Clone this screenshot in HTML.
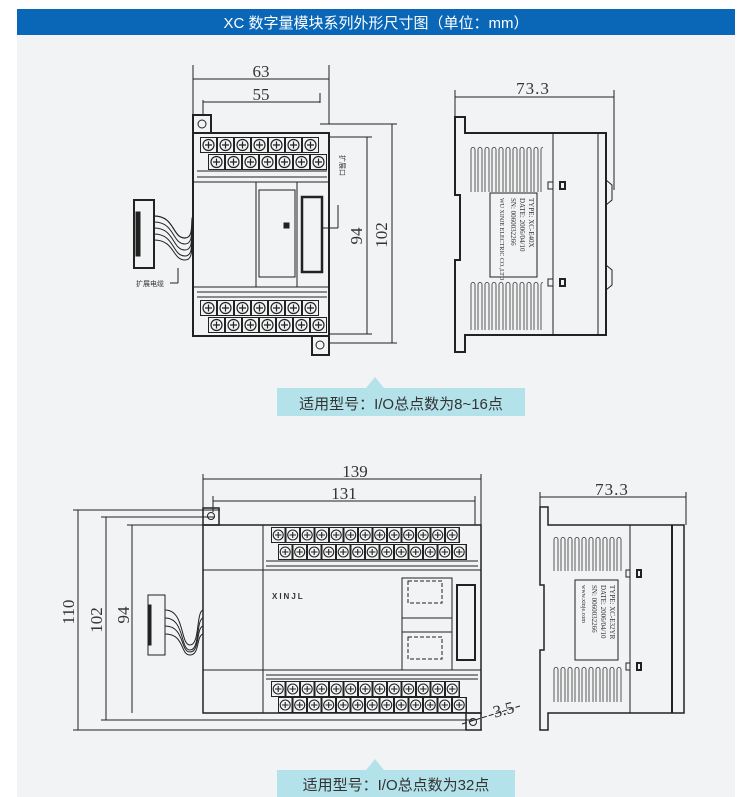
<!DOCTYPE html>
<html><head><meta charset="utf-8"><style>
html,body{margin:0;padding:0;background:#fff;width:750px;height:797px;overflow:hidden}
svg{display:block}
.t{font-family:"Liberation Serif",serif;fill:#333}
.c{font-family:"Liberation Sans","Noto Sans CJK SC",sans-serif}
</style></head><body>
<svg width="750" height="797" viewBox="0 0 750 797" xmlns="http://www.w3.org/2000/svg">
<defs>
<pattern id="scr" x="0" y="0" width="17" height="16" patternUnits="userSpaceOnUse">
<rect x="0.5" y="0.5" width="16" height="15" fill="none" stroke="#222" stroke-width="1"/>
<circle cx="8.5" cy="8" r="5.5" fill="none" stroke="#222" stroke-width="1.2"/>
<path d="M5 8h7M8.5 4.5v7" stroke="#222" stroke-width="1.2"/>
</pattern>
<pattern id="scr2" x="0" y="0" width="14.5" height="16" patternUnits="userSpaceOnUse">
<rect x="0.5" y="0.5" width="13.5" height="15" fill="none" stroke="#222" stroke-width="1"/>
<circle cx="7.2" cy="8" r="5" fill="none" stroke="#222" stroke-width="1.1"/>
<path d="M4 8h6.5M7.2 5v6" stroke="#222" stroke-width="1.1"/>
</pattern>
<pattern id="vent" x="0" y="0" width="7" height="200" patternUnits="userSpaceOnUse">
<rect x="1" y="0.5" width="4" height="100" rx="2" fill="none" stroke="#333" stroke-width="0.8"/>
</pattern>
</defs>
<rect x="17" y="35" width="718" height="762" fill="#f2f3f4"/>
<rect x="17" y="9" width="718" height="26" fill="#0a67b8"/>
<text x="376" y="28" text-anchor="middle" class="c" font-size="15" fill="#fff">XC 数字量模块系列外形尺寸图（单位：mm）</text>

<g stroke="#222" fill="none" stroke-width="1">
<!-- TOP FRONT -->
<line x1="193" y1="65" x2="193" y2="115"/>
<line x1="329" y1="65" x2="329" y2="124"/>
<line x1="193" y1="79" x2="329" y2="79"/>
<line x1="203" y1="100" x2="203" y2="115"/>
<line x1="320" y1="93" x2="320" y2="103"/>
<line x1="203" y1="102" x2="320" y2="102"/>
<line x1="320" y1="124" x2="397" y2="124"/>
<line x1="329" y1="137" x2="372" y2="137"/>
<line x1="329" y1="334" x2="372" y2="334"/>
<line x1="329" y1="343" x2="397" y2="343"/>
<line x1="367" y1="137" x2="367" y2="334"/>
<line x1="392" y1="124" x2="392" y2="343"/>
<rect x="193" y="133" width="136" height="203" stroke-width="2"/>
<rect x="193" y="115" width="18" height="18" stroke-width="2"/>
<circle cx="202" cy="124" r="4"/>
<rect x="312" y="336" width="17" height="19" stroke-width="2"/>
<circle cx="320" cy="345" r="4"/>
<rect width="119" height="16" fill="url(#scr)" stroke="none" transform="translate(200,137)"/>
<rect width="119" height="16" fill="url(#scr)" stroke="none" transform="translate(208,154)"/>
<line x1="197" y1="171" x2="327" y2="171"/>
<line x1="197" y1="177" x2="327" y2="177"/>
<line x1="193" y1="182" x2="329" y2="182"/>
<line x1="193" y1="287" x2="329" y2="287"/>
<line x1="197" y1="292" x2="327" y2="292"/>
<line x1="197" y1="297" x2="327" y2="297"/>
<rect width="119" height="16" fill="url(#scr)" stroke="none" transform="translate(200,300)"/>
<rect width="119" height="16" fill="url(#scr)" stroke="none" transform="translate(208,317)"/>
<rect x="259" y="190" width="36" height="87"/>
<line x1="256" y1="182" x2="256" y2="287"/>
<line x1="297" y1="182" x2="297" y2="287"/>
<rect x="302" y="197" width="20" height="75" stroke-width="2.5"/>
<line x1="322" y1="228" x2="338" y2="228"/><line x1="338" y1="228" x2="338" y2="205"/>
<rect x="284" y="223" width="5" height="5" fill="#222"/>
<!-- cable -->
<rect x="134" y="200" width="20" height="68" stroke-width="2"/>
<rect x="136" y="212" width="4" height="44" fill="#222"/>
<path d="M154 216 C175 216,172 238,185 238 C195 238,190 218,193 216" stroke-width="1.2"/>
<path d="M154 222 C175 222,172 244,185 244 C195 244,190 224,193 222"/>
<path d="M154 228 C175 228,172 250,185 250 C195 250,190 230,193 228"/>
<path d="M154 234 C175 234,172 256,185 256 C195 256,190 236,193 234"/>
<path d="M154 240 C175 240,172 260,185 260 C195 260,190 242,193 240"/>
<line x1="178" y1="268" x2="178" y2="283"/><line x1="170" y1="283" x2="178" y2="283"/>

<!-- TOP SIDE -->
<line x1="455" y1="90" x2="455" y2="118"/>
<line x1="614" y1="90" x2="614" y2="190"/>
<line x1="455" y1="97" x2="614" y2="97"/>
<path d="M455 117 H465 V133 H606 V335 H465 V352 H455 V260 H460 V195 H455 Z" stroke-width="2"/>
<line x1="553" y1="133" x2="553" y2="335"/>
<line x1="598" y1="133" x2="598" y2="335"/>
<path d="M606 180 L612 185 V200 L606 205 V265 L612 270 V285 L606 290"/>
<rect width="73" height="45" fill="url(#vent)" stroke="none" transform="translate(470,147)"/>
<rect width="73" height="48" fill="url(#vent)" stroke="none" transform="translate(470,282)"/>
<rect x="490" y="193" width="47" height="84" fill="#f2f3f4"/>
<rect x="548" y="182" width="5" height="7"/><rect x="560" y="182" width="5" height="7" stroke-width="2"/>
<rect x="548" y="279" width="5" height="7"/><rect x="560" y="279" width="5" height="7" stroke-width="2"/>

<!-- BOTTOM FRONT -->
<line x1="203" y1="474" x2="203" y2="508"/>
<line x1="481" y1="474" x2="481" y2="530"/>
<line x1="203" y1="479" x2="481" y2="479"/>
<line x1="213" y1="496" x2="213" y2="512"/>
<line x1="475" y1="496" x2="475" y2="525"/>
<line x1="213" y1="501" x2="475" y2="501"/>
<line x1="78" y1="510" x2="78" y2="730"/>
<line x1="73" y1="510" x2="220" y2="510"/>
<line x1="73" y1="730" x2="482" y2="730"/>
<line x1="106" y1="517" x2="106" y2="720"/>
<line x1="101" y1="517" x2="215" y2="517"/>
<line x1="101" y1="720" x2="475" y2="720"/>
<line x1="132" y1="525" x2="132" y2="713"/>
<line x1="127" y1="525" x2="203" y2="525"/>
<rect x="203" y="525" width="278" height="188" stroke-width="1.5"/>
<rect x="203" y="508" width="16" height="17" stroke-width="1.5"/>
<circle cx="211" cy="516" r="3.5"/>
<rect x="466" y="713" width="15" height="17" stroke-width="1.5"/>
<circle cx="473" cy="722" r="3.5"/>
<line x1="263" y1="525" x2="263" y2="713"/>
<line x1="203" y1="570" x2="481" y2="570"/>
<line x1="203" y1="670" x2="481" y2="670"/>
<rect width="189" height="16" fill="url(#scr2)" stroke="none" transform="translate(271,527)"/>
<rect width="189" height="16" fill="url(#scr2)" stroke="none" transform="translate(278,544)"/>
<line x1="266" y1="561" x2="478" y2="561"/>
<line x1="266" y1="566" x2="478" y2="566"/>
<line x1="266" y1="675" x2="478" y2="675"/>
<line x1="266" y1="679" x2="478" y2="679"/>
<rect width="189" height="16" fill="url(#scr2)" stroke="none" transform="translate(271,681)"/>
<rect width="189" height="16" fill="url(#scr2)" stroke="none" transform="translate(278,697)"/>
<rect x="402" y="578" width="50" height="92"/>
<line x1="402" y1="618" x2="452" y2="618"/><line x1="402" y1="632" x2="452" y2="632"/>
<rect x="408" y="581" width="34" height="22" stroke-dasharray="4 2"/>
<rect x="408" y="637" width="34" height="22" stroke-dasharray="4 2"/>
<rect x="457" y="585" width="18" height="75" stroke-width="2"/>
<rect x="148" y="595" width="17" height="60"/>
<rect x="148" y="605" width="3" height="40" fill="#222"/>
<path d="M165 610 C185 610,180 645,190 645 C200 645,196 612,203 610"/>
<path d="M165 618 C185 618,180 650,190 650 C200 650,196 620,203 618"/>
<path d="M165 626 C185 626,180 652,190 652 C200 652,196 628,203 626"/>
<path d="M165 634 C185 634,180 655,190 655 C200 655,196 636,203 634"/>
<line x1="462" y1="724" x2="520" y2="706" stroke-dasharray="5 2"/>

<!-- BOTTOM SIDE -->
<line x1="540" y1="492" x2="540" y2="510"/>
<line x1="686" y1="492" x2="686" y2="525"/>
<line x1="540" y1="497" x2="686" y2="497"/>
<path d="M540 507 H548 V525 H684 V713 H548 V730 H540 V650 H544 V585 H540 Z" stroke-width="1.5"/>
<line x1="630" y1="525" x2="630" y2="713"/>
<line x1="672" y1="525" x2="672" y2="713" stroke-width="2"/>
<rect width="70" height="34" fill="url(#vent)" stroke="none" transform="translate(553,537)"/>
<rect width="70" height="35" fill="url(#vent)" stroke="none" transform="translate(553,667)"/>
<rect x="575" y="580" width="43" height="80" fill="#f2f3f4"/>
<rect x="626" y="570" width="4" height="7"/><rect x="637" y="570" width="4" height="7" stroke-width="2"/>
<rect x="626" y="663" width="4" height="7"/><rect x="637" y="663" width="4" height="7" stroke-width="2"/>
</g>

<g class="t" font-size="17">
<text x="261" y="77" text-anchor="middle">63</text>
<text x="261" y="100" text-anchor="middle">55</text>
<text x="533" y="94" text-anchor="middle" letter-spacing="1">73.3</text>
<text x="355" y="477" text-anchor="middle">139</text>
<text x="344" y="499" text-anchor="middle">131</text>
<text x="612" y="495" text-anchor="middle" letter-spacing="1">73.3</text>
<text transform="translate(362,236) rotate(-90)" text-anchor="middle">94</text>
<text transform="translate(387,235) rotate(-90)" text-anchor="middle">102</text>
<text transform="translate(74,612) rotate(-90)" text-anchor="middle">110</text>
<text transform="translate(102,620) rotate(-90)" text-anchor="middle">102</text>
<text transform="translate(129,615) rotate(-90)" text-anchor="middle">94</text>
<text transform="translate(505,715) rotate(-15)" text-anchor="middle">3.5</text>
</g>
<g class="c" fill="#333">
<text x="272" y="599" font-size="8" font-weight="bold" letter-spacing="2">XINJL</text>
<text x="136" y="286" font-size="7">扩展电缆</text>
<text transform="translate(340,155) rotate(90)" font-size="7">扩展口</text>
<g font-size="7" font-family="Liberation Serif">
<text transform="translate(529,198) rotate(90)">TYPE: XC-E40X</text>
<text transform="translate(520,198) rotate(90)">DATE: 2006/04/10</text>
<text transform="translate(511,198) rotate(90)">SN: 0060032266</text>
<text transform="translate(500,198) rotate(90)" font-size="6">WU XINJE ELECTRIC CO.,LTD</text>
<text transform="translate(610,585) rotate(90)">TYPE: XC-E32YR</text>
<text transform="translate(601,585) rotate(90)">DATE: 2006/04/10</text>
<text transform="translate(592,585) rotate(90)">SN: 0060032266</text>
<text transform="translate(582,585) rotate(90)" font-size="6">www.xinje.com</text>
</g>
</g>

<!-- captions -->
<rect x="277" y="388" width="248" height="28" fill="#b4e2ea"/>
<polygon points="366,388 375,377 384,388" fill="#b4e2ea"/>
<text x="401" y="409" text-anchor="middle" class="c" font-size="15" fill="#333">适用型号：I/O总点数为8~16点</text>
<rect x="277" y="770" width="238" height="27" fill="#b4e2ea"/>
<polygon points="366,770 375,759 384,770" fill="#b4e2ea"/>
<text x="396" y="790" text-anchor="middle" class="c" font-size="15" fill="#333">适用型号：I/O总点数为32点</text>
</svg>
</body></html>
